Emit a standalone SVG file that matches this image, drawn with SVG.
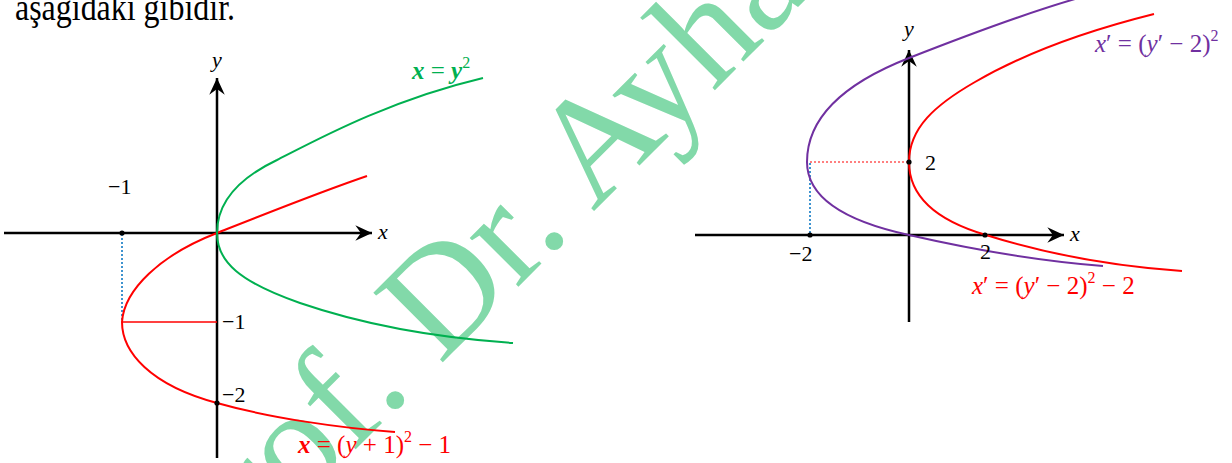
<svg xmlns="http://www.w3.org/2000/svg" width="1232" height="463" viewBox="0 0 1232 463">
<style>
.ax{stroke:#000;stroke-width:2.5;fill:none}
.cv{fill:none;stroke-width:2}
.red{stroke:#ff0000}
.grn{stroke:#00b050}
.pur{stroke:#7030a0}
.dotb{stroke:#0070c0;stroke-width:1.5;stroke-dasharray:2 2;fill:none}
.dotr{stroke:#ff0000;stroke-width:1.2;stroke-dasharray:2 2;fill:none}
.lab{font-family:"Liberation Serif",serif;font-size:22px;fill:#000}
.it{font-style:italic}
.eq{font-family:"Liberation Serif",serif;font-size:25px}
.sup{font-size:16px}
.wm{font-family:"Liberation Serif","Times New Roman",serif;font-size:150px;fill:#82d9a9}
</style>
<defs>
<marker id="arr" markerUnits="userSpaceOnUse" markerWidth="20" markerHeight="20" viewBox="-16 -8 18 16" refX="0" refY="0" orient="auto">
<path d="M0,0 L-15,-7 L-10,0 L-15,7 Z" fill="#000"/>
</marker>
</defs>
<rect width="1232" height="463" fill="#fff"/>
<text x="15" y="20" font-family="Liberation Serif,serif" font-size="37" fill="#000" textLength="220" lengthAdjust="spacingAndGlyphs">aşağıdaki gibidir.</text>
<g id="watermark">
<text class="wm" transform="translate(204,601) rotate(-45)">Prof. Dr. Ayhan</text>
</g>
<g id="left-graph">
<g id="left-axes">
<line class="ax" x1="4" y1="233" x2="372" y2="233" marker-end="url(#arr)"/>
<line class="ax" x1="217" y1="458" x2="217" y2="78" marker-end="url(#arr)"/>
<text class="lab it" x="378" y="239">x</text>
<text class="lab it" x="212" y="67">y</text>
</g>
<g id="left-connectors">
<line class="dotb" x1="122" y1="234" x2="122" y2="321"/>
<line x1="122" y1="322" x2="217" y2="322" stroke="#ff0000" stroke-width="1.3"/>
</g>
<g id="left-curve-red">
<path class="cv red" d="M367,176 C320,192 270,212 217,233 C160,255 124,290 122,322 C122,352 150,385 217,403 C270,418 340,428 395,432"/>
</g>
<g id="left-curve-green">
<path class="cv grn" d="M483,78 C390,100 320,138 277,160 C235,180 217,205 217,233 C217,262 240,282 300,303 C370,327 440,338 513,343"/>
</g>
<g id="left-points">
<circle cx="122" cy="233" r="2.6"/>
<circle cx="217" cy="403" r="2.6"/>
<text class="lab" x="108" y="194">−1</text>
<text class="lab" x="222" y="329">−1</text>
<text class="lab" x="222" y="402">−2</text>
</g>
<g id="left-labels">
<text class="eq" x="412" y="79" fill="#00b050"><tspan font-style="italic" font-weight="bold">x</tspan> = <tspan font-style="italic" font-weight="bold">y</tspan><tspan class="sup" dy="-11">2</tspan></text>
<text class="eq" x="298" y="453" fill="#ff0000"><tspan font-style="italic" font-weight="bold">x</tspan> = (<tspan font-style="italic">y</tspan> + 1)<tspan class="sup" dy="-11">2</tspan><tspan dy="11"> − 1</tspan></text>
</g>
</g>
<g id="right-graph">
<g id="right-axes">
<line class="ax" x1="695" y1="235" x2="1064" y2="235" marker-end="url(#arr)"/>
<line class="ax" x1="909" y1="322" x2="909" y2="50" marker-end="url(#arr)"/>
<text class="lab it" x="1070" y="241">x</text>
<text class="lab it" x="904" y="36">y</text>
</g>
<g id="right-connectors">
<line class="dotr" x1="810" y1="162" x2="909" y2="162"/>
<line class="dotb" x1="810" y1="163" x2="810" y2="235"/>
</g>
<g id="right-curve-purple">
<path class="cv pur" d="M1075,-1 C1020,15 960,38 909,58 C840,85 807,120 807,162 C807,195 840,220 909,235 C970,249 1040,261 1103,266"/>
</g>
<g id="right-curve-red">
<path class="cv red" d="M1154,14 C1090,30 1030,50 975,82 C935,105 909,128 909,162 C909,195 935,220 986,235 C1040,252 1110,266 1182,271"/>
</g>
<g id="right-points">
<circle cx="810" cy="235" r="2.6"/>
<circle cx="985" cy="235" r="2.6"/>
<circle cx="909" cy="162" r="2.6"/>
<text class="lab" x="789" y="261">−2</text>
<text class="lab" x="980" y="259">2</text>
<text class="lab" x="925" y="170">2</text>
</g>
<g id="right-labels">
<text class="eq" x="1095" y="52" fill="#7030a0"><tspan font-style="italic">x</tspan>′ = (<tspan font-style="italic">y</tspan>′ − 2)<tspan class="sup" dy="-11">2</tspan></text>
<text class="eq" x="972" y="294" fill="#ff0000"><tspan font-style="italic">x</tspan>′ = (<tspan font-style="italic">y</tspan>′ − 2)<tspan class="sup" dy="-11">2</tspan><tspan dy="11"> − 2</tspan></text>
</g>
</g>
</svg>
